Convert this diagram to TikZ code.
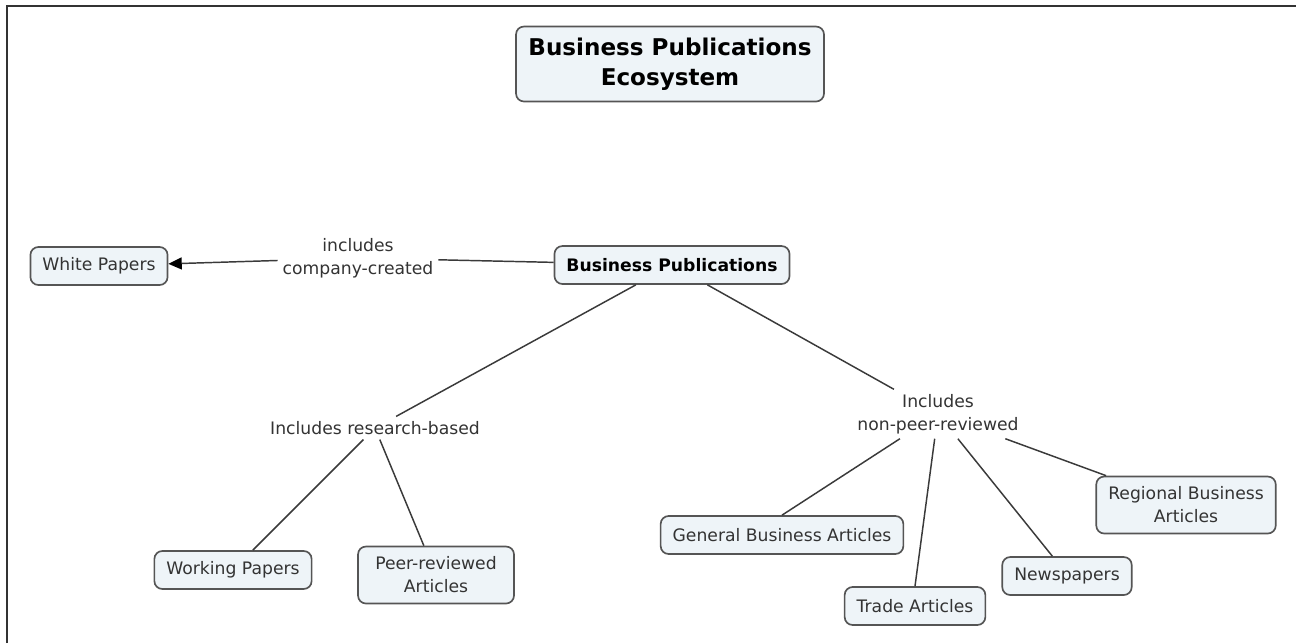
\documentclass[tikz,border=0pt]{standalone}
\usepackage{fontspec}
\setmainfont{DejaVu Sans}
\usetikzlibrary{arrows.meta}
\definecolor{boxfill}{HTML}{EEF4F8}
\definecolor{boxline}{HTML}{555555}
\definecolor{txt}{HTML}{333333}
\definecolor{conn}{HTML}{3A3A3A}
\tikzset{
  concept/.style={draw=boxline, line width=1.25pt, fill=boxfill, rounded corners=6pt,
    align=center, text=txt, inner xsep=9pt, inner ysep=3pt, minimum height=28.5pt,
    font=\fontsize{12.9}{17.2}\selectfont},
  twoline/.style={minimum height=42.75pt},
  linklabel/.style={align=center, text=txt, inner sep=3.5pt,
    font=\fontsize{12.9}{17.2}\selectfont},
  conline/.style={draw=conn, line width=1.1pt},
}
\begin{document}
\begin{tikzpicture}[x=0.75pt,y=-0.75pt]
\useasboundingbox (0,0) rectangle (1296,643);
\fill[white] (0,0) rectangle (1296,643);
% frame
\draw[line width=1.5pt, color=txt] (7,643) -- (7,6) -- (1296,6);

% concepts
\node[concept, minimum width=231pt, minimum height=56.25pt, text=black,
      font=\fontsize{17.3}{22.5}\selectfont\bfseries] (title) at (670,64) {Business Publications\\Ecosystem};
\node[concept, text=black, font=\fontsize{12.9}{17.2}\selectfont\bfseries] (bp) at (672,265) {Business Publications};
\node[concept] (wp) at (99,266) {White Papers};
\node[concept] (wkp) at (233,570) {Working Papers};
\node[concept, twoline, minimum width=117pt] (pr) at (436,575) {Peer-reviewed\\Articles};
\node[concept] (gba) at (782,535) {General Business Articles};
\node[concept] (trade) at (915,606) {Trade Articles};
\node[concept] (news) at (1067,576) {Newspapers};
\node[concept, twoline] (reg) at (1186,505) {Regional Business\\Articles};

% link labels
\node[linklabel] (lc) at (358,258) {includes\\company-created};
\node[linklabel] (rb) at (375,428) {Includes research-based};
\node[linklabel] (np) at (938,414) {Includes\\non-peer-reviewed};

% connectors
\draw[conline] (bp) -- (lc);
\draw[conline, -{Triangle[length=10pt,width=9pt,color=black]}] (lc) -- (wp);
\draw[conline] (bp) -- (rb);
\draw[conline] (bp) -- (np);
\draw[conline] (rb) -- (wkp);
\draw[conline] (rb) -- (pr);
\draw[conline] (np) -- (gba.north);
\draw[conline] (np) -- (trade.north);
\draw[conline] (np) -- ([xshift=-11pt]news.north);
\draw[conline] (np) -- ([xshift=8pt]reg.north west);
\end{tikzpicture}
\end{document}
